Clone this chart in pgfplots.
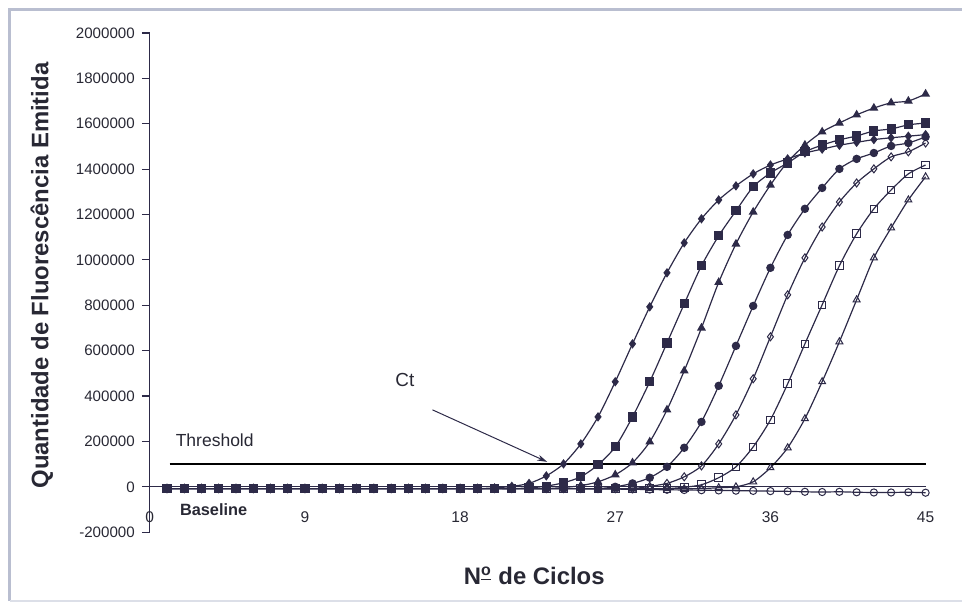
\documentclass[border=0pt]{standalone}
\usepackage{pgfplots}
\pgfplotsset{compat=1.18}
\usepackage{pgfplotstable}
\usepackage{fontspec}
\setmainfont{Liberation Sans}
\usetikzlibrary{arrows.meta}

\definecolor{ln}{RGB}{45,42,72}
\definecolor{txt}{RGB}{40,40,52}
\definecolor{frm}{RGB}{185,190,208}

\pgfplotstableread{
c s1 s2 s3 s4 s5 s6 s7 s8
1 -8000 -8000 -8000 -8000 -8000 -8000 -8000 -8000
2 -8000 -8000 -8000 -8000 -8000 -8000 -8000 -8000
3 -8000 -8000 -8000 -8000 -8000 -8000 -8000 -8000
4 -8000 -8000 -8000 -8000 -8000 -8000 -8000 -8000
5 -8000 -8000 -8000 -8000 -8000 -8000 -8000 -8000
6 -8000 -8000 -8000 -8000 -8000 -8000 -8000 -8000
7 -8000 -8000 -8000 -8000 -8000 -8000 -8000 -8000
8 -8000 -8000 -8000 -8000 -8000 -8000 -8000 -8000
9 -8000 -8000 -8000 -8000 -8000 -8000 -8000 -8000
10 -8000 -8000 -8000 -8000 -8000 -8000 -8000 -8000
11 -8000 -8000 -8000 -8000 -8000 -8000 -8000 -8000
12 -8000 -8000 -8000 -8000 -8000 -8000 -8000 -8000
13 -8000 -8000 -8000 -8000 -8000 -8000 -8000 -8000
14 -8000 -8000 -8000 -8000 -8000 -8000 -8000 -8000
15 -8000 -8000 -8000 -8000 -8000 -8000 -8000 -8000
16 -8000 -8000 -8000 -8000 -8000 -8000 -8000 -8000
17 -8000 -8000 -8000 -8000 -8000 -8000 -8000 -8000
18 -8000 -8000 -8000 -8000 -8000 -8000 -8000 -8000
19 -8000 -8000 -8000 -8000 -8000 -8000 -8000 -8000
20 -5000 -8000 -8000 -8000 -8000 -8000 -8000 -8000
21 2000 -8000 -8000 -8000 -8000 -8000 -8000 -8000
22 15000 -5000 -8000 -8000 -8000 -8000 -8000 -8000
23 48000 3000 -8000 -8000 -8000 -8000 -8000 -8000
24 101000 18000 -3000 -8000 -8000 -8000 -8000 -8000
25 189000 44000 5000 -8000 -8000 -8000 -8000 -8000
26 308000 97000 22000 -8000 -8000 -8000 -8000 -9000
27 463000 176000 53000 0 -8000 -8000 -8000 -10000
28 630000 308000 106000 15000 -8000 -8000 -8000 -11000
29 793000 463000 198000 40000 2000 -8000 -8000 -12000
30 943000 634000 339000 88000 15000 -8000 -8000 -13000
31 1075000 806000 511000 172000 44000 -2000 -8000 -14000
32 1181000 974000 700000 286000 92000 9000 -8000 -15000
33 1264000 1106000 901000 445000 189000 40000 -4000 -16000
34 1326000 1216000 1070000 621000 317000 88000 0 -17000
35 1379000 1322000 1211000 797000 476000 176000 22000 -18000
36 1418000 1383000 1330000 965000 661000 295000 84000 -19000
37 1445000 1427000 1432000 1110000 846000 454000 172000 -20000
38 1471000 1476000 1506000 1225000 1009000 630000 300000 -22000
39 1488000 1506000 1564000 1317000 1145000 802000 463000 -23000
40 1505000 1529000 1603000 1401000 1255000 974000 639000 -22000
41 1518000 1546000 1639000 1445000 1339000 1115000 824000 -24000
42 1530000 1568000 1669000 1471000 1401000 1225000 1009000 -25000
43 1538000 1577000 1692000 1502000 1454000 1308000 1141000 -25000
44 1545000 1595000 1700000 1515000 1476000 1379000 1264000 -24000
45 1552000 1603000 1731000 1542000 1515000 1418000 1366000 -26000
}\data

\begin{document}
\begin{tikzpicture}
\begin{axis}[
  scale only axis,
  width=388.5bp, height=250bp,
  xmin=0, xmax=45, ymin=-200000, ymax=2000000,
  axis y line*=left, axis x line*=middle,
  hide obscured x ticks=false, hide obscured y ticks=false,
  scaled y ticks=false, scaled x ticks=false,
  clip=false,
  axis line style={ln, line width=0.6bp},
  xtick={0,9,18,27,36,45},
  xticklabels={0,9,18,27,36,45},
  ytick={-200000,0,200000,400000,600000,800000,1000000,1200000,1400000,1600000,1800000,2000000},
  yticklabels={-200000,0,200000,400000,600000,800000,1000000,1200000,1400000,1600000,1800000,2000000},
  tick align=outside,
  major tick length=4bp,
  y tick style={ln, line width=0.6bp},
  x tick style={draw=none},
  xticklabel style={font=\fontsize{7.8}{9}\selectfont, text=txt, anchor=center, yshift=-11bp},
  yticklabel style={font=\fontsize{7.6}{9}\selectfont, text=txt},
  every axis plot/.append style={ln, line width=0.6bp, smooth, tension=0.45},
]
\addplot[mark=*, mark size=1.8bp, mark options={fill=ln, draw=ln}] table[x=c,y=s4]{\data};
\addplot[mark=diamond, mark size=2bp, mark options={fill=white, draw=ln, line width=0.5bp}] table[x=c,y=s5]{\data};
\addplot[mark=square, mark size=1.9bp, mark options={fill=white, draw=ln, line width=0.5bp}] table[x=c,y=s6]{\data};
\addplot[mark=triangle, mark size=2bp, mark options={fill=white, draw=ln, line width=0.5bp}] table[x=c,y=s7]{\data};
\addplot[mark=triangle*, mark size=2bp, mark options={fill=ln, draw=ln}] table[x=c,y=s3]{\data};
\addplot[mark=diamond*, mark size=1.9bp, mark options={fill=ln, draw=ln}] table[x=c,y=s1]{\data};
\addplot[mark=square*, mark size=2bp, mark options={fill=ln, draw=ln}] table[x=c,y=s2]{\data};
\addplot[mark=o, mark size=1.8bp, mark options={fill=white, draw=ln, line width=0.5bp}] table[x=c,y=s8]{\data};
% threshold
\addplot[black, line width=0.75bp, sharp plot, mark=none] coordinates {(1.15,100000) (45,100000)};
% labels
\node[anchor=west, text=txt, font=\fontsize{8.8}{10}\selectfont] at (axis cs:1.1,203000) {Threshold};
\node[anchor=west, text=txt, font=\bfseries\fontsize{8.2}{10}\selectfont] at (axis cs:1.35,-101000) {Baseline};
\node[text=txt, font=\fontsize{9.5}{11}\selectfont] at (axis cs:14.8,471000) {Ct};
\draw[ln, line width=0.5bp, -{Stealth[length=5bp,width=3bp]}] (axis cs:16.4,339000) -- (axis cs:23.05,110000);
\node[rotate=90, text=txt, font=\bfseries\fontsize{12}{14}\selectfont] at (rel axis cs:-0.139,0.514) {Quantidade de Fluorescência Emitida};
\node[text=txt, font=\bfseries\fontsize{12}{14}\selectfont] at (rel axis cs:0.4955,-0.088) {N\textsuperscript{\underline{o}} de Ciclos};
% frame
\draw[frm, line width=1.5bp] (rel axis cs:-0.1802,-0.138) -- (rel axis cs:-0.1802,1.047) -- (rel axis cs:1.0463,1.047);
\draw[frm!50, line width=0.8bp] (rel axis cs:-0.1802,-0.138) -- (rel axis cs:1.0463,-0.138);
\path (rel axis cs:-0.19305,-0.14) rectangle (rel axis cs:1.0463,1.066);
\end{axis}
\end{tikzpicture}
\end{document}
